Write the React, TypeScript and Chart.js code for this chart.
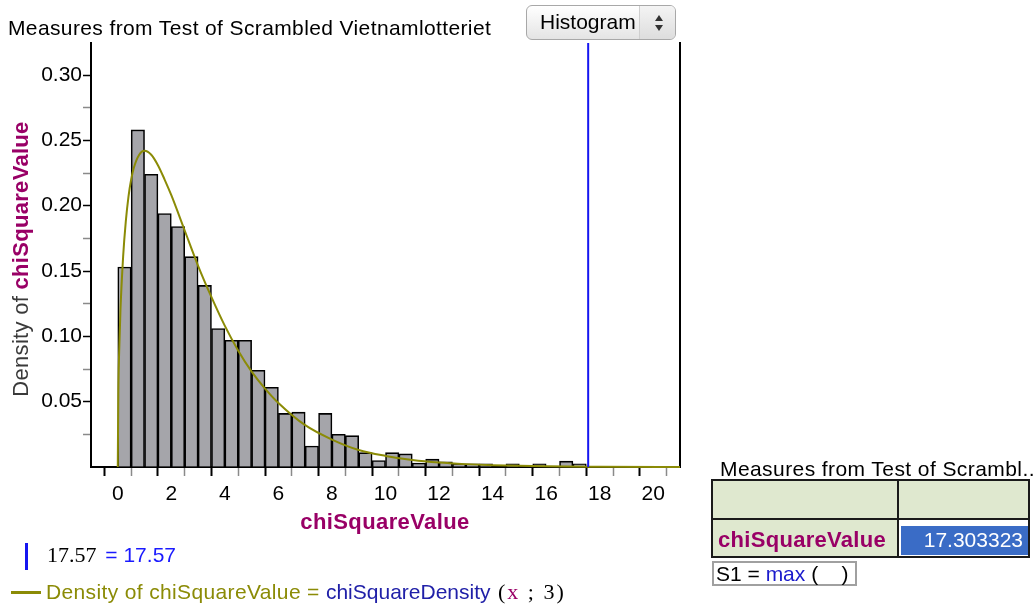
import React, { useEffect, useRef } from "react";
import { Chart, registerables } from "chart.js";

Chart.register(...registerables);

// ---- data ----
const binWidth = 0.5;
const binStarts = [
  0, 0.5, 1, 1.5, 2, 2.5, 3, 3.5, 4, 4.5, 5, 5.5, 6, 6.5, 7, 7.5, 8, 8.5,
  9, 9.5, 10, 10.5, 11, 11.5, 12, 12.5, 13, 13.5, 14, 14.5, 15, 15.5, 16, 16.5, 17,
];
const densities: (number | null)[] = [
  0.153, 0.258, 0.224, 0.194, 0.184, 0.161, 0.139, 0.106, 0.097, 0.097, 0.074,
  0.061, 0.041, 0.042, 0.016, 0.041, 0.025, 0.024, 0.011, 0.005, 0.011, 0.010,
  0.003, 0.006, 0.004, 0.0025, 0.0025, 0.0025, null, 0.0025, null, 0.0025, null,
  0.0045, 0.0025,
];
const curveX = [
  0, 0.02, 0.05, 0.1, 0.2, 0.3, 0.4, 0.5, 0.6, 0.8, 1, 1.25, 1.5, 1.75, 2, 2.5,
  3, 3.5, 4, 4.5, 5, 5.5, 6, 7, 8, 9, 10, 11, 12, 13, 14, 16, 18, 21,
];
const curveY = [
  0, 0.056, 0.087, 0.12, 0.161, 0.188, 0.207, 0.22, 0.229, 0.239, 0.242, 0.239,
  0.231, 0.22, 0.208, 0.181, 0.154, 0.13, 0.108, 0.089, 0.073, 0.06, 0.049,
  0.032, 0.021, 0.013, 0.0085, 0.0054, 0.0034, 0.0022, 0.0014, 0.0005, 0.0002,
  0.00005,
];
const markerValue = 17.57;
const xMin = -1;
const xMax = 21;
const yMin = 0;
const yMax = 0.3245;
const xLabelValues = [0, 2, 4, 6, 8, 10, 12, 14, 16, 18, 20];
const yLabelValues = [0.05, 0.1, 0.15, 0.2, 0.25, 0.3];

const SANS = '"Liberation Sans", Arial, sans-serif';
const SERIF = '"Liberation Serif", "Times New Roman", serif';
const OLIVE = "#8b8b06";
const PURPLE = "#990066";

function ChartCanvas() {
  const ref = useRef<HTMLCanvasElement | null>(null);
  useEffect(() => {
    if (!ref.current) return;
    const bars = binStarts.map((s, i) => ({ x: s + binWidth / 2, y: densities[i] }));
    const curve = curveX.map((x, i) => ({ x, y: curveY[i] }));
    const marker = [
      { x: markerValue, y: yMin },
      { x: markerValue, y: yMax },
    ];
    const near = (v: number, arr: number[]) => arr.some((a) => Math.abs(a - v) < 1e-6);
    const chart = new Chart(ref.current, {
      type: "bar",
      data: {
        datasets: [
          {
            type: "line",
            data: marker,
            borderColor: "#1616f0",
            borderWidth: 2,
            pointRadius: 0,
            order: 0,
          } as any,
          {
            type: "line",
            data: curve,
            borderColor: OLIVE,
            borderWidth: 2,
            pointRadius: 0,
            cubicInterpolationMode: "monotone",
            order: 1,
            clip: 4,
          } as any,
          {
            type: "bar",
            data: bars,
            backgroundColor: "#a5a5aa",
            borderColor: "#000000",
            borderWidth: 1.6,
            barPercentage: 1,
            categoryPercentage: 1,
            order: 2,
          } as any,
        ],
      },
      options: {
        animation: false,
        responsive: false,
        devicePixelRatio: 1,
        layout: { padding: { left: 0, top: 43, right: 356, bottom: 0 } },
        plugins: {
          legend: { display: false },
          tooltip: { enabled: false },
          title: { display: false },
        },
        scales: {
          x: {
            type: "linear",
            min: xMin,
            max: xMax,
            offset: false,
            afterFit: (s: any) => {
              s.height = 606 - 467;
            },
            ticks: {
              stepSize: 1,
              includeBounds: false,
              autoSkip: false,
              maxRotation: 0,
              padding: 6,
              color: "#000",
              font: { family: SANS, size: 21 },
              callback: (v: any) => (near(Number(v), xLabelValues) ? String(Math.round(Number(v))) : ""),
            },
            grid: {
              drawOnChartArea: false,
              drawTicks: true,
              tickLength: 9,
              tickWidth: (c: any) => (c.tick && Math.round(c.tick.value) % 2 === 0 ? 2 : 1.5),
              tickColor: (c: any) => {
                const v = c.tick ? c.tick.value : 0;
                if (v < 0) return "rgba(0,0,0,0)";
                return Math.round(v) % 2 === 0 ? "#000" : "#8a8a8a";
              },
            },
            border: { display: true, color: "#000", width: 2 },
          },
          y: {
            type: "linear",
            min: yMin,
            max: yMax,
            afterFit: (s: any) => {
              s.width = 91;
            },
            ticks: {
              stepSize: 0.025,
              includeBounds: false,
              autoSkip: false,
              padding: 1,
              color: "#000",
              font: { family: SANS, size: 21 },
              callback: (v: any) => (near(Number(v), yLabelValues) ? Number(v).toFixed(2) : ""),
            },
            grid: {
              drawOnChartArea: false,
              drawTicks: true,
              tickLength: 8,
              tickWidth: 1.5,
              tickColor: (c: any) => {
                const v = c.tick ? c.tick.value : 0;
                if (v <= 0.0001) return "rgba(0,0,0,0)";
                return near(v, yLabelValues) ? "#000" : "#8a8a8a";
              },
            },
            border: { display: true, color: "#000", width: 2 },
          },
          yRight: {
            type: "linear",
            position: "right",
            min: 0,
            max: 1,
            afterFit: (s: any) => {
              s.width = 0;
            },
            ticks: { display: false },
            grid: { display: false, drawTicks: false },
            border: { display: true, color: "#000", width: 2 },
          },
        },
      } as any,
    });
    return () => chart.destroy();
  }, []);
  return (
    <canvas
      ref={ref}
      width={1036}
      height={606}
      style={{ position: "absolute", left: 0, top: 0, width: 1036, height: 606 }}
    />
  );
}

const abs = (left: number, cy: number, extra: React.CSSProperties = {}): React.CSSProperties => ({
  position: "absolute",
  left,
  top: cy - 12,
  height: 24,
  lineHeight: "24px",
  whiteSpace: "nowrap",
  fontFamily: SANS,
  fontSize: 21,
  ...extra,
});

export default function App() {
  useEffect(() => {
    document.body.style.margin = "0";
  }, []);
  return (
    <div style={{ position: "relative", width: 1036, height: 606, overflow: "hidden", background: "#fff" }}>
      <ChartCanvas />
      {/* title */}
      <div style={abs(8, 28, { color: "#000", letterSpacing: "0.38px" })}>
        Measures from Test of Scrambled Vietnamlotteriet
      </div>
      {/* histogram button */}
      <div
        style={{
          position: "absolute",
          left: 526,
          top: 5,
          width: 150,
          height: 35,
          boxSizing: "border-box",
          border: "1px solid #a8a8a8",
          borderRadius: 6,
          background: "linear-gradient(#ffffff, #e4e4e4)",
          overflow: "hidden",
        }}
      >
        <div style={abs(13, 16, { color: "#000" })}>Histogram</div>
        <div
          style={{
            position: "absolute",
            left: 112,
            top: 0,
            width: 38,
            height: 35,
            borderLeft: "1px solid #cfcfcf",
            background: "linear-gradient(#f4f4f4, #dcdcdc)",
          }}
        >
          <div
            style={{
              position: "absolute",
              left: 15,
              top: 9,
              width: 0,
              height: 0,
              borderLeft: "4px solid transparent",
              borderRight: "4px solid transparent",
              borderBottom: "6px solid #333",
            }}
          />
          <div
            style={{
              position: "absolute",
              left: 15,
              top: 19,
              width: 0,
              height: 0,
              borderLeft: "4px solid transparent",
              borderRight: "4px solid transparent",
              borderTop: "6px solid #333",
            }}
          />
        </div>
      </div>
      {/* y axis title */}
      <div
        style={{
          position: "absolute",
          left: 21,
          top: 259,
          transform: "translate(-50%, -50%) rotate(-90deg)",
          whiteSpace: "nowrap",
          fontFamily: SANS,
          fontSize: 22,
          lineHeight: "24px",
          letterSpacing: "0.3px",
        }}
      >
        <span style={{ color: "#3a3a3a" }}>Density of </span>
        <span style={{ color: PURPLE, fontWeight: "bold" }}>chiSquareValue</span>
      </div>
      {/* x axis title */}
      <div
        style={{
          ...abs(385, 522, { color: PURPLE, fontWeight: "bold", fontSize: 22, letterSpacing: "0.4px" }),
          transform: "translateX(-50%)",
        }}
      >
        chiSquareValue
      </div>
      {/* legend */}
      <div style={{ position: "absolute", left: 25, top: 543, width: 3, height: 27, background: "#1616f0" }} />
      <div style={abs(47, 555)}>
        <span style={{ fontFamily: SERIF, fontSize: 22, color: "#000" }}>17.57</span>
        <span style={{ color: "#1a1aff", marginLeft: 3 }}> = 17.57</span>
      </div>
      <div style={{ position: "absolute", left: 11, top: 591, width: 30, height: 3, background: OLIVE }} />
      <div style={abs(46, 592)}>
        <span style={{ color: OLIVE, letterSpacing: "0.36px" }}>Density of chiSquareValue = </span>
        <span style={{ color: "#2020a8" }}>chiSquareDensity</span>
        <span style={{ fontFamily: SERIF, fontSize: 22, color: "#000", letterSpacing: "2px" }}> (</span>
        <span style={{ fontFamily: SERIF, fontSize: 22, color: PURPLE, letterSpacing: "2px" }}>x</span>
        <span style={{ fontFamily: SERIF, fontSize: 22, color: "#000", letterSpacing: "2px" }}> ; 3)</span>
      </div>
      {/* table */}
      <div style={abs(720, 469, { color: "#000", letterSpacing: "0.42px" })}>Measures from Test of Scrambl..</div>
      <div
        style={{
          position: "absolute",
          left: 711,
          top: 479,
          width: 319,
          height: 79,
          boxSizing: "border-box",
          border: "2px solid #1a1a1a",
          background: "#dfe8cf",
        }}
      />
      <div style={{ position: "absolute", left: 711, top: 518, width: 319, height: 2, background: "#1a1a1a" }} />
      <div style={{ position: "absolute", left: 897, top: 479, width: 2, height: 79, background: "#1a1a1a" }} />
      <div style={{ position: "absolute", left: 899, top: 520, width: 129, height: 36, background: "#ffffff" }} />
      <div style={{ position: "absolute", left: 901, top: 526, width: 127, height: 29, background: "#3a6cc6" }} />
      <div style={abs(718, 540, { color: PURPLE, fontWeight: "bold", fontSize: 22, letterSpacing: "0.3px" })}>
        chiSquareValue
      </div>
      <div style={{ ...abs(0, 540, { color: "#fff" }), left: "auto", right: 1036 - 1023 }}>17.303323</div>
      <div
        style={{
          position: "absolute",
          left: 712,
          top: 561,
          width: 145,
          height: 25,
          boxSizing: "border-box",
          border: "2px solid #a0a0a0",
          background: "#fff",
        }}
      />
      <div style={abs(716, 574)}>
        <span style={{ color: "#000" }}>S1 = </span>
        <span style={{ color: "#1a1acc" }}>max</span>
        <span style={{ color: "#000" }}> (&nbsp;&nbsp;&nbsp;&nbsp;)</span>
      </div>
    </div>
  );
}
